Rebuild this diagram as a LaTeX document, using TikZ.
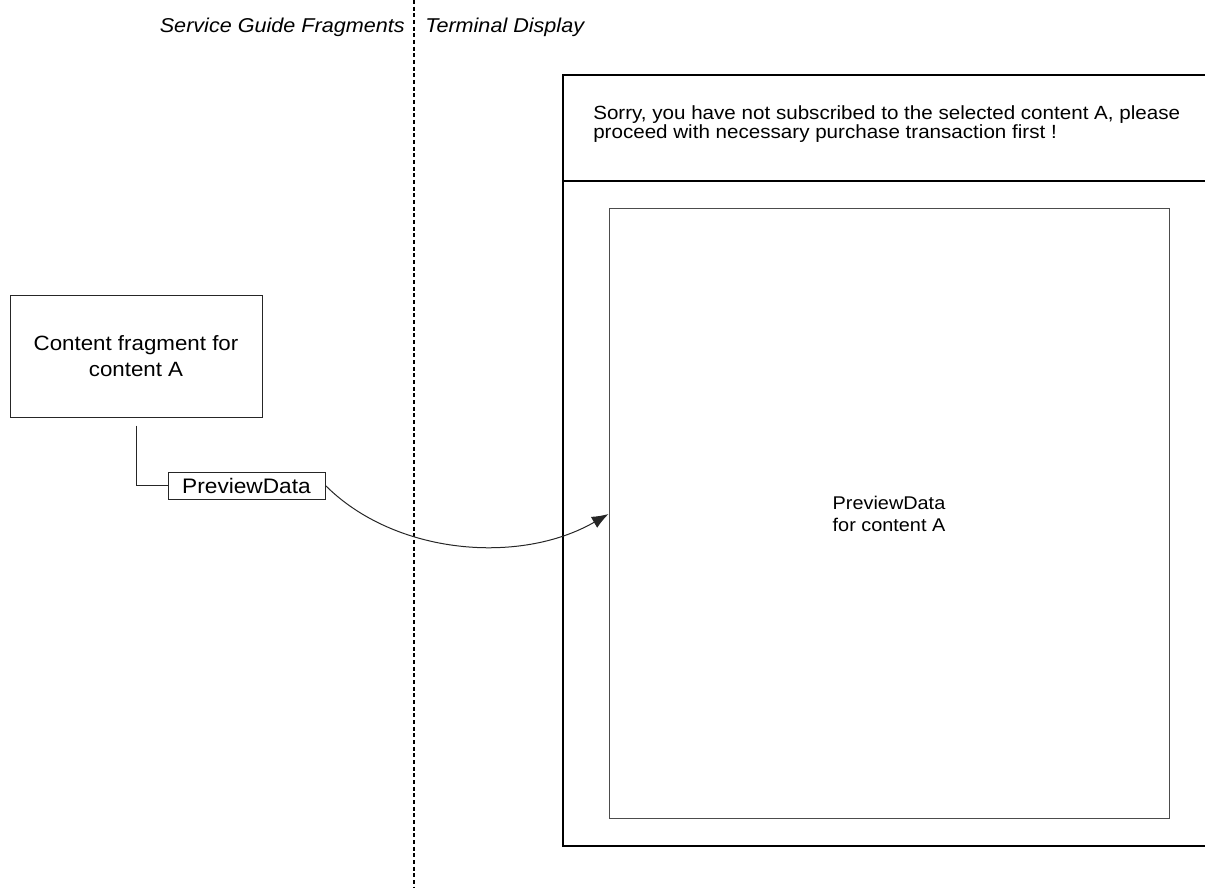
\documentclass[tikz,border=0pt]{standalone}
\usepackage{fontspec}
\setmainfont{Liberation Sans}[FakeStretch=1.08]
\usetikzlibrary{positioning}
\usetikzlibrary{calc}
\usetikzlibrary{arrows.meta}
\colorlet{line colour}{black!85}
\colorlet{screen colour}{black}
\tikzset{
    % Filled arrow head as in the display drawing
    >={Latex[length=12.5pt, width=9.5pt]},
%
    % Lines
    link/.style={color=line colour, line width=0.75pt},
    screen line/.style={color=screen colour, line width=0.9pt},
    divider/.style={color=black, line width=2.2pt, dash pattern=on 3pt off 2pt},
%
    % Fonts
    big font/.style={font=\fontsize{15.5}{19.5}\selectfont},
    small font/.style={font=\fontsize{13.8}{16.5}\selectfont},
    every node/.style={align=center},
}

\begin{document}
\begin{tikzpicture}[
    x=0.75pt, y=-0.75pt,
    basic node/.style={draw=line colour, line width=0.75pt, rectangle, inner sep=0},
    frag box/.style={basic node, big font, minimum width=189pt, minimum height=91.5pt},
    data box/.style={basic node, font=\fontsize{15.75}{19}\selectfont,
        minimum width=117.75pt, minimum height=20.25pt},
    preview box/.style={basic node, small font, draw=black!70,
        minimum width=420pt, minimum height=456.75pt},
]
\useasboundingbox (0,0) rectangle (1205,891);

% Column headings and the dividing line
\draw [divider] (414,0) coordinate (div top) -- (414,888) coordinate (div bottom);
\path
    (405,33) node [anchor=base east, inner sep=0, font=\fontsize{15}{17}\selectfont\itshape]
        (sg head) {Service Guide Fragments}
    (425,33) node [anchor=base west, inner sep=0, font=\fontsize{15}{17}\selectfont\itshape]
        (td head) {Terminal Display};

% Service guide side
\path
    (136,356) node [frag box] (content) {Content fragment for\\content A}
    (246.5,485.5) node [data box] (preview) {PreviewData};
\draw [link] ($(content.south)+(0,8)$) coordinate (p) |- (preview.west);

% Terminal screen, open on the right
\draw [screen line]
    (1205,75) -- (563,75) coordinate (screen nw) -- (563,846) coordinate (screen sw) -- (1205,846);
\draw [screen colour, line width=1.6pt] (563,181) coordinate (bar west) -- (1205,181);
\path (593,105) node [anchor=north west, align=left, inner sep=0,
        font=\fontsize{14.3}{14.25}\selectfont] (sorry)
    {Sorry, you have not subscribed to the selected content A, please\\
     proceed with necessary purchase transaction first !};
\path (889,513.5) node [preview box] (shown) {PreviewData\\for content A};

\draw [link, ->] (preview.east) .. controls (395,555) and (520,565) .. ($(shown.west)+(0,0.5)$);

\end{tikzpicture}
\end{document}
